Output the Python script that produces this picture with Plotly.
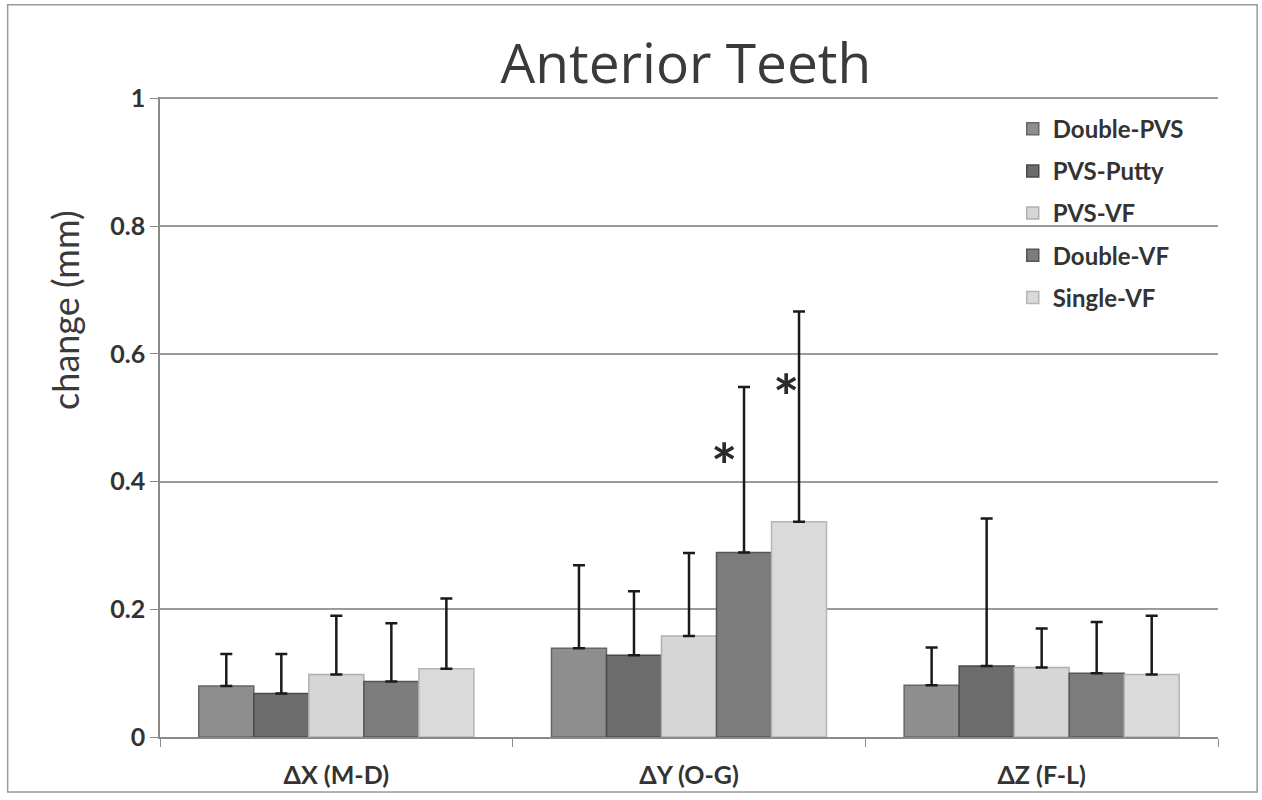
import plotly.graph_objects as go

categories = ["ΔX (M-D)", "ΔY (O-G)", "ΔZ (F-L)"]
series_names = ["Double-PVS", "PVS-Putty", "PVS-VF", "Double-VF", "Single-VF"]
double_pvs = [0.080, 0.139, 0.081]
pvs_putty = [0.068, 0.128, 0.111]
pvs_vf = [0.098, 0.158, 0.109]
double_vf = [0.087, 0.289, 0.100]
single_vf = [0.107, 0.337, 0.098]
err_double_pvs = [0.050, 0.130, 0.059]
err_pvs_putty = [0.062, 0.100, 0.231]
err_pvs_vf = [0.092, 0.130, 0.061]
err_double_vf = [0.091, 0.259, 0.080]
err_single_vf = [0.110, 0.329, 0.092]
yticks = [0, 0.2, 0.4, 0.6, 0.8, 1]
ytick_labels = ["0", "0.2", "0.4", "0.6", "0.8", "1"]
star_values = [0.447, 0.556]

values = [double_pvs, pvs_putty, pvs_vf, double_vf, single_vf]
errors = [err_double_pvs, err_pvs_putty, err_pvs_vf, err_double_vf, err_single_vf]
fills = ["#8e8e8e", "#6c6c6c", "#d6d6d6", "#7c7c7c", "#dadada"]
lines = ["#666666", "#4a4a4a", "#b0b0b0", "#555555", "#b5b5b5"]

FONT = "Lato, Open Sans, sans-serif"

fig = go.Figure()
for name, v, e, fc, lc in zip(series_names, values, errors, fills, lines):
    fig.add_trace(go.Bar(
        name=name, x=categories, y=v, legendgroup=name,
        marker=dict(color=fc, line=dict(color=lc, width=1.5)),
        error_y=dict(type="data", array=e, symmetric=False, arrayminus=[0, 0, 0],
                     color="#1a1a1a", thickness=2.5, width=6, visible=True),
    ))

# asterisks marking significance
fig.add_annotation(x=categories[1], y=star_values[0], text="<b>*</b>", showarrow=False,
                   xref="x", yref="y", xshift=35, yshift=-14,
                   font=dict(size=62, color="#2a2a2a", family=FONT))
fig.add_annotation(x=categories[1], y=star_values[1], text="<b>*</b>", showarrow=False,
                   xref="x", yref="y", xshift=97, yshift=-14,
                   font=dict(size=62, color="#2a2a2a", family=FONT))

# y axis title (placed like the original, above centre)
fig.add_annotation(text="change (mm)", xref="paper", yref="paper", x=-0.09, y=0.667,
                   textangle=-90, showarrow=False, xanchor="center", yanchor="middle",
                   font=dict(size=36, color="#3a3a3a", family=FONT))

# outer frame
fig.add_shape(type="rect", xref="paper", yref="paper", x0=-0.144, x1=1.037, y0=-0.086, y1=1.144,
              line=dict(color="#9a9a9a", width=1.5), fillcolor="rgba(0,0,0,0)", layer="below")

fig.update_layout(
    width=1262, height=800,
    margin=dict(l=160, r=44, t=97, b=63),
    paper_bgcolor="white", plot_bgcolor="white",
    barmode="group", bargap=0.22, bargroupgap=0,
    title=dict(text="Anterior Teeth", x=0.5435, xanchor="center", y=0.92, yanchor="middle",
               font=dict(size=55, color="#3a3a3a", family="Open Sans, sans-serif")),
    legend=dict(x=0.806, y=0.985, xanchor="left", yanchor="top",
                font=dict(size=24, color="#333333", family=FONT, weight="bold"),
                bgcolor="rgba(255,255,255,0)", tracegroupgap=8, itemwidth=30),
    showlegend=True,
    font=dict(family=FONT),
)
fig.update_yaxes(
    range=[0, 1.002], tickvals=yticks, ticktext=ytick_labels,
    showgrid=True, gridcolor="#9a9a9a", gridwidth=1.5,
    showline=True, linecolor="#8a8a8a", linewidth=1.5,
    ticks="outside", ticklen=8, tickcolor="#8a8a8a",
    tickfont=dict(size=25, color="#333333", family=FONT, weight="bold"),
    zeroline=False,
)
fig.update_xaxes(
    showline=True, linecolor="#8a8a8a", linewidth=1.5,
    ticks="outside", ticklen=8, tickcolor="#8a8a8a", tickson="boundaries",
    ticklabelstandoff=15,
    tickfont=dict(size=25, color="#333333", family=FONT, weight="bold"),
    showgrid=False,
)

fig.write_html("out.html")
